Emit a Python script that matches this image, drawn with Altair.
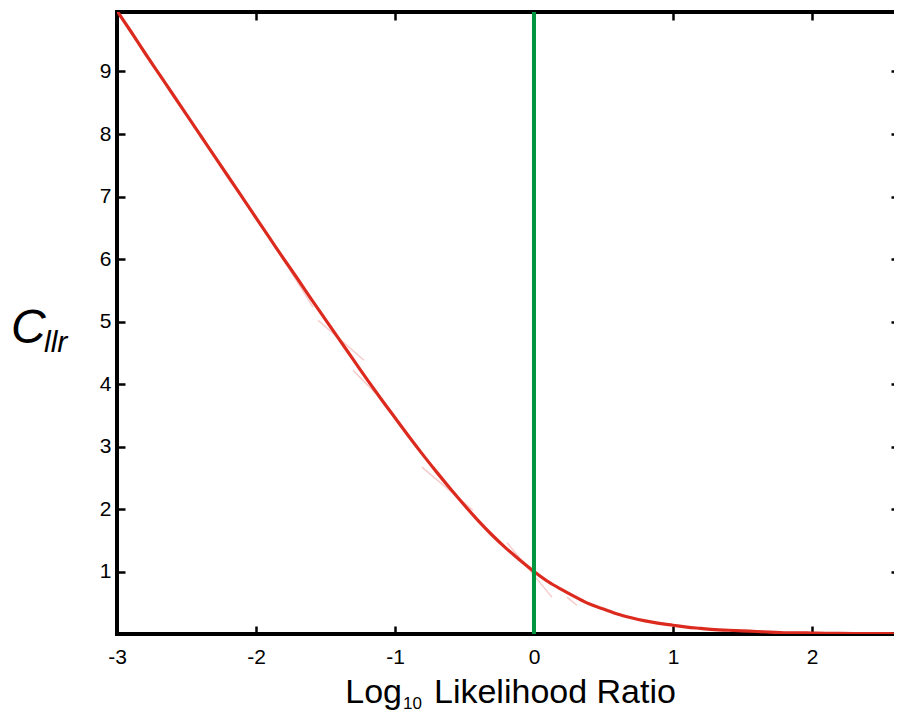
import altair as alt
import pandas as pd

# Curve values (log10 LR vs Cllr)
llr_x = [-3.0, -2.9, -2.8, -2.7, -2.6, -2.5, -2.4, -2.3, -2.2, -2.1, -2.0,
         -1.9, -1.8, -1.7, -1.6, -1.5, -1.4, -1.3, -1.2, -1.1, -1.0,
         -0.9, -0.8, -0.7, -0.6, -0.5, -0.4, -0.3, -0.2, -0.1, 0.0,
         0.1, 0.2, 0.3, 0.4, 0.5, 0.6, 0.7, 0.8, 0.9, 1.0,
         1.1, 1.2, 1.3, 1.4, 1.5, 1.6, 1.7, 1.8, 1.9, 2.0,
         2.1, 2.2, 2.3, 2.4, 2.5, 2.6, 2.66]
cllr_y = [9.97, 9.64, 9.30, 8.97, 8.64, 8.31, 7.98, 7.65, 7.32, 6.99, 6.66,
          6.33, 6.00, 5.68, 5.35, 5.03, 4.71, 4.39, 4.07, 3.76, 3.46,
          3.16, 2.87, 2.59, 2.32, 2.06, 1.81, 1.58, 1.37, 1.18, 1.00,
          0.84, 0.71, 0.59, 0.48, 0.40, 0.32, 0.26, 0.21, 0.17, 0.14,
          0.11, 0.09, 0.07, 0.06, 0.05, 0.04, 0.03, 0.02, 0.02, 0.015,
          0.012, 0.010, 0.008, 0.006, 0.005, 0.004, 0.003]

# Faint pink segments near the curve
seg_x1 = [-1.755, -1.554, -1.302, -0.806, -0.194, 0.237]
seg_y1 = [5.82, 5.02, 4.22, 2.67, 1.46, 0.59]
seg_x2 = [-1.590, -1.223, -1.144, -0.439, 0.129, 0.309]
seg_y2 = [5.23, 4.38, 3.86, 1.98, 0.59, 0.46]

x_ticks = [-3, -2, -1, 0, 1, 2]
top_ticks = [-2, -1, 0, 1, 2]
y_ticks = [1, 2, 3, 4, 5, 6, 7, 8, 9]
vline_x = [0]

X_DOMAIN = [-3, 2.662]
Y_DOMAIN = [0, 9.952]
FONT = "Liberation Sans, Arial, Helvetica, sans-serif"

curve = pd.DataFrame({"x": llr_x, "y": cllr_y})
segs = pd.DataFrame({"x": seg_x1, "y": seg_y1, "x2": seg_x2, "y2": seg_y2})

xs = alt.Scale(domain=X_DOMAIN, nice=False, zero=False)
ys = alt.Scale(domain=Y_DOMAIN, nice=False, zero=False)

common_axis = dict(grid=False, domain=False, tickColor="black", tickWidth=2.5,
                   tickSize=8, labelFont=FONT, labelFontSize=21, labelColor="black",
                   title=None, labelOverlap=False, labelExpr="'' + datum.value")

line = alt.Chart(curve).mark_line(color="#dc2a1e", strokeWidth=3.2, clip=True,
                                  interpolate="monotone").encode(
    x=alt.X("x:Q", scale=xs,
            axis=alt.Axis(orient="bottom", values=x_ticks, offset=-8, labelPadding=12,
                          labelFlush=False, **common_axis)),
    y=alt.Y("y:Q", scale=ys,
            axis=alt.Axis(orient="left", values=y_ticks, offset=-8, labelPadding=6,
                          **common_axis)),
)

pink = alt.Chart(segs).mark_rule(color="#f2a9a9", strokeWidth=1.5, opacity=0.6,
                                 clip=True).encode(
    x=alt.X("x:Q", scale=xs,
            axis=alt.Axis(orient="top", values=top_ticks, offset=-8, labels=False,
                          grid=False, domain=False, tickColor="black", tickWidth=2.5,
                          tickSize=8, title=None)),
    y=alt.Y("y:Q", scale=ys,
            axis=alt.Axis(orient="right", values=y_ticks, offset=-13, labels=False,
                          grid=False, domain=False, tickColor="black", tickWidth=2.5,
                          tickSize=8, title=None)),
    x2="x2:Q",
    y2="y2:Q",
)

vline = alt.Chart(pd.DataFrame({"x": vline_x})).mark_rule(
    color="#00963f", strokeWidth=4).encode(
    x=alt.X("x:Q", scale=xs, axis=None),
)

one = pd.DataFrame({"a": [0]})


def label(text, px, py, size, style="normal", align="left"):
    return alt.Chart(one).mark_text(
        text=text, font=FONT, fontSize=size, fontStyle=style, align=align,
        baseline="alphabetic", color="black").encode(
        x=alt.value(px), y=alt.value(py))


chart = alt.layer(
    pink, line, vline,
    label("C", -106, 331, 48, "italic"),
    label("llr", -73, 340, 30, "italic"),
    label("Log", 285, 691, 34, align="right"),
    label("10", 286, 697, 17),
    label("Likelihood Ratio", 317, 691, 34),
).resolve_axis(x="independent", y="independent").properties(
    width=787, height=622,
    autosize=alt.AutoSizeParams(type="none"),
    padding={"left": 109, "top": 4, "right": -10, "bottom": 78},
    background="white",
).configure_view(stroke="black", strokeWidth=4)

chart.save("out.html", embed_options={"renderer": "svg", "actions": False})
